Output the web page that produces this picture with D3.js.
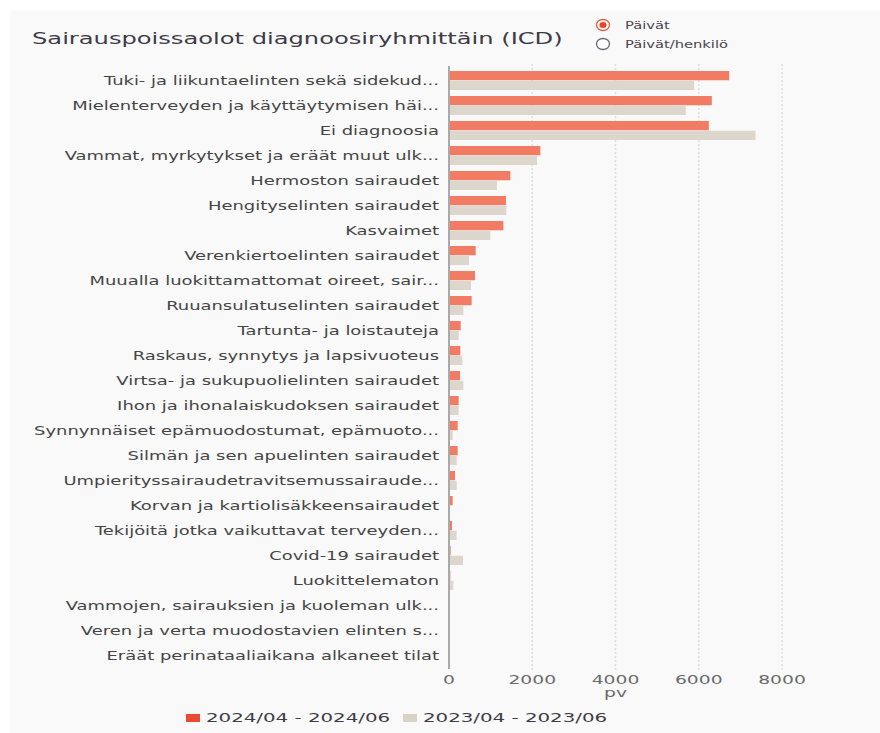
<!DOCTYPE html>
<html>
<head>
<meta charset="utf-8">
<script src="https://d3js.org/d3.v7.min.js"></script>
<style>
  body { margin: 0; background: #fff; }
  svg { display: block; }
</style>
</head>
<body>
<div id="chart"></div>
<script>
const categories = [
  "Tuki- ja liikuntaelinten sekä sidekud...",
  "Mielenterveyden ja käyttäytymisen häi...",
  "Ei diagnoosia",
  "Vammat, myrkytykset ja eräät muut ulk...",
  "Hermoston sairaudet",
  "Hengityselinten sairaudet",
  "Kasvaimet",
  "Verenkiertoelinten sairaudet",
  "Muualla luokittamattomat oireet, sair...",
  "Ruuansulatuselinten sairaudet",
  "Tartunta- ja loistauteja",
  "Raskaus, synnytys ja lapsivuoteus",
  "Virtsa- ja sukupuolielinten sairaudet",
  "Ihon ja ihonalaiskudoksen sairaudet",
  "Synnynnäiset epämuodostumat, epämuoto...",
  "Silmän ja sen apuelinten sairaudet",
  "Umpierityssairaudetravitsemussairaude...",
  "Korvan ja kartiolisäkkeensairaudet",
  "Tekijöitä jotka vaikuttavat terveyden...",
  "Covid-19 sairaudet",
  "Luokittelematon",
  "Vammojen, sairauksien ja kuoleman ulk...",
  "Veren ja verta muodostavien elinten s...",
  "Eräät perinataaliaikana alkaneet tilat"
];
const days2024 = [6731, 6314, 6242, 2195, 1474, 1370, 1306, 641, 625, 545, 280, 272, 264, 232, 208, 208, 144, 88, 72, 40, 32, 0, 0, 0];
const days2023 = [5890, 5689, 7364, 2115, 1154, 1378, 994, 481, 529, 345, 232, 321, 345, 232, 90, 184, 184, 15, 184, 337, 104, 0, 0, 0];
const seriesNames = ["2024/04 - 2024/06", "2023/04 - 2023/06"];
const xTicks = [0, 2000, 4000, 6000, 8000];
const radioOptions = ["Päivät", "Päivät/henkilö"];

const W = 880, H = 733;
const barColors = ["#f27b63", "#ddd6cc"];
const legendColors = ["#ea4a30", "#d9d3c3"];
const font = "'DejaVu Sans', sans-serif";
const stretch = 1.56; // the screenshot is horizontally stretched

const data = categories.map((c, i) => ({cat: c, values: [days2024[i], days2023[i]]}));

const svg = d3.select("#chart").append("svg")
    .attr("width", W).attr("height", H);

// panel background
svg.append("rect")
    .attr("x", 10).attr("y", 10)
    .attr("width", W - 10).attr("height", H - 10)
    .attr("fill", "#f9f9f9");

const x = d3.scaleLinear().domain([0, 8000]).range([449, 782]);
const y0 = d3.scaleBand().domain(categories).range([68, 668])
    .paddingInner(0.24).paddingOuter(0.12);
const y1 = d3.scaleBand().domain([0, 1]).range([0, y0.bandwidth()]).paddingInner(0.05);

// stretched text helper
function stretchedText(g, tx, ty, str, anchor, size, fill, sx) {
  return g.append("text")
      .attr("transform", `translate(${tx},${ty}) scale(${sx || stretch},1)`)
      .attr("text-anchor", anchor)
      .attr("font-family", font)
      .attr("font-size", size)
      .attr("fill", fill)
      .text(str);
}

// gridlines
svg.append("g")
  .selectAll("line")
  .data(xTicks.slice(1))
  .join("line")
    .attr("x1", d => x(d)).attr("x2", d => x(d))
    .attr("y1", 64).attr("y2", 670)
    .attr("stroke", "#dedede")
    .attr("stroke-width", 1.5)
    .attr("stroke-dasharray", "2,2");

// bars
const groups = svg.append("g")
  .selectAll("g")
  .data(data)
  .join("g")
    .attr("transform", d => `translate(0,${y0(d.cat)})`);

groups.selectAll("rect")
  .data(d => d.values.map((v, k) => ({v, k})))
  .join("rect")
    .attr("x", x(0))
    .attr("y", d => y1(d.k))
    .attr("width", d => x(d.v) - x(0))
    .attr("height", y1.bandwidth())
    .attr("fill", d => barColors[d.k]);

// category labels
const labels = svg.append("g");
categories.forEach(c => {
  stretchedText(labels, 439, y0(c) + y0.bandwidth() / 2 + 4, c, "end", 11.5, "#454545");
});

// left axis line
svg.append("line")
    .attr("x1", x(0)).attr("x2", x(0))
    .attr("y1", 66).attr("y2", 669)
    .attr("stroke", "#a9a9a9")
    .attr("stroke-width", 2);

// x tick labels
const ticks = svg.append("g");
xTicks.forEach(t => {
  stretchedText(ticks, x(t), 684, String(t), "middle", 12, "#6a6a6a");
});
stretchedText(svg, x(4000), 697, "pv", "middle", 12, "#6a6a6a");

// title
stretchedText(svg, 32, 44, "Sairauspoissaolot diagnoosiryhmittäin (ICD)", "start", 16, "#3d3b47", 1.51);

// radio buttons
radioOptions.forEach((r, i) => {
  const cy = 25 + i * 19;
  svg.append("ellipse")
      .attr("cx", 603).attr("cy", cy).attr("rx", 6.5).attr("ry", 5.5)
      .attr("fill", "#fff")
      .attr("stroke", i === 0 ? "#e8593f" : "#6b6470")
      .attr("stroke-width", 1.3);
  if (i === 0) {
    svg.append("ellipse")
        .attr("cx", 603).attr("cy", cy).attr("rx", 3.6).attr("ry", 3)
        .attr("fill", "#e8452c");
  }
  stretchedText(svg, 625, cy + 4, r, "start", 10.5, "#4a4550", 1.4);
});

// legend
const legendX = [186, 403];
seriesNames.forEach((s, i) => {
  svg.append("rect")
      .attr("x", legendX[i]).attr("y", 714)
      .attr("width", 14).attr("height", 8)
      .attr("fill", legendColors[i]);
  stretchedText(svg, legendX[i] + 20, 722, s, "start", 12, "#3d3b47", 1.65);
});
</script>
</body>
</html>
